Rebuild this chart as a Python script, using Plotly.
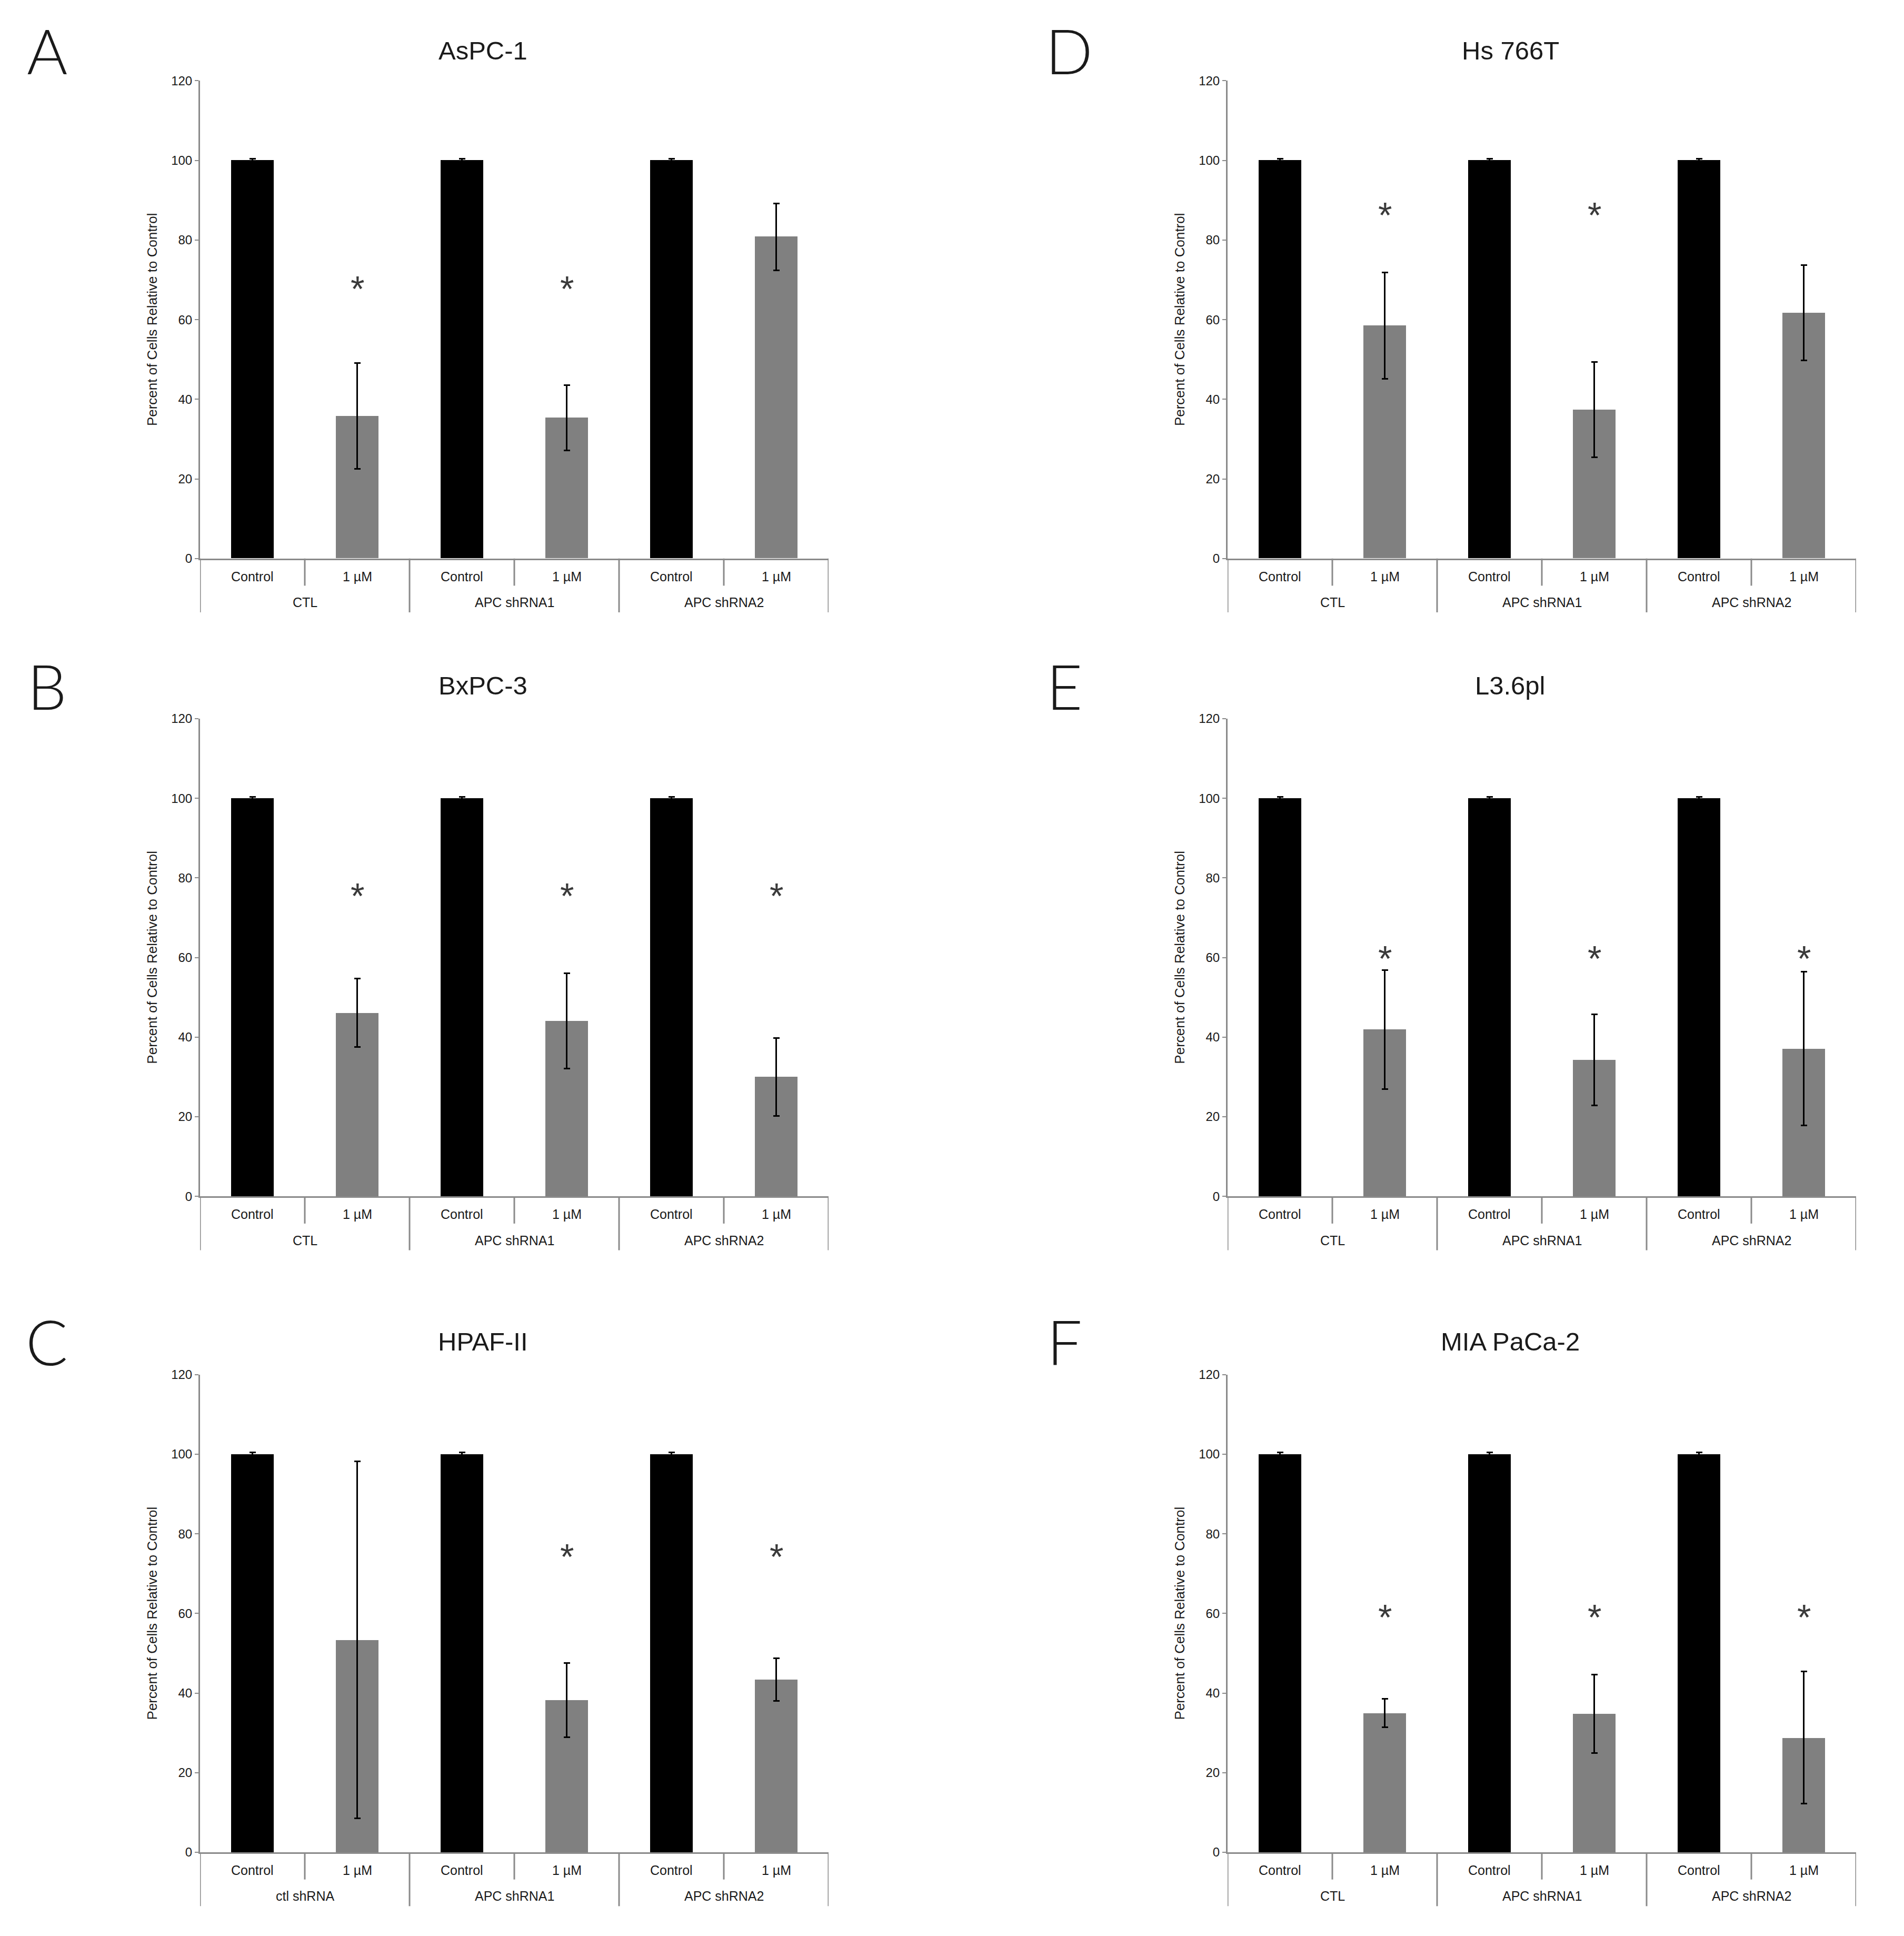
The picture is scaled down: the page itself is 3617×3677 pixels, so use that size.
import plotly.graph_objects as go
from plotly.subplots import make_subplots

# ---------------- data ----------------
panel_letters = ["A", "B", "C", "D", "E", "F"]
panel_titles = ["AsPC-1", "BxPC-3", "HPAF-II", "Hs 766T", "L3.6pl", "MIA PaCa-2"]
group_labels = [
    ["CTL", "APC shRNA1", "APC shRNA2"],
    ["CTL", "APC shRNA1", "APC shRNA2"],
    ["ctl shRNA", "APC shRNA1", "APC shRNA2"],
    ["CTL", "APC shRNA1", "APC shRNA2"],
    ["CTL", "APC shRNA1", "APC shRNA2"],
    ["CTL", "APC shRNA1", "APC shRNA2"],
]
treatment_labels = ["Control", "1 µM"]

control_means = [100, 100, 100]
control_err = [0.4, 0.4, 0.4]

treated_means = {
    "A": [35.8, 35.4, 80.8],
    "B": [46.1, 44.1, 30.0],
    "C": [53.4, 38.2, 43.4],
    "D": [58.5, 37.4, 61.7],
    "E": [41.9, 34.3, 37.1],
    "F": [35.0, 34.8, 28.8],
}
treated_err = {
    "A": [13.3, 8.2, 8.4],
    "B": [8.6, 12.0, 9.8],
    "C": [44.8, 9.3, 5.3],
    "D": [13.3, 12.0, 12.0],
    "E": [15.0, 11.5, 19.3],
    "F": [3.6, 9.8, 16.6],
}
# height (value units) of significance asterisk, None = no asterisk
asterisk_y = {
    "A": [69.1, 69.1, None],
    "B": [76.9, 76.9, 76.9],
    "C": [None, 75.6, 75.6],
    "D": [87.6, 87.6, None],
    "E": [61.1, 61.1, 61.1],
    "F": [60.5, 60.5, 60.5],
}
y_ticks = [0, 20, 40, 60, 80, 100, 120]
y_axis_title = "Percent of Cells Relative to Control"

# ---------------- layout geometry ----------------
W, H = 3617, 3677
col_x = [(380, 1574), (2332, 3526)]
row_y = [(140.5, 1054.5), (1361, 2275), (2616, 3530)]
letter_pos = {"A": (89, 82), "B": (89, 1298), "C": (89, 2552),
              "D": (2031, 82), "E": (2022, 1298), "F": (2022, 2552)}

FONT = "Liberation Sans, Arial, sans-serif"
AXIS_GRAY = "#8a8a8a"
TEXT = "#1a1a1a"

fig = make_subplots(rows=3, cols=2)

for idx, letter in enumerate(panel_letters):
    col = idx // 3
    row = idx % 3
    r, c = row + 1, col + 1
    x0, x1 = col_x[col]
    ytop, ybot = row_y[row]
    plot_w = x1 - x0
    plot_h = ybot - ytop

    ctrl_x = [0, 2, 4]
    trt_x = [1, 3, 5]
    fig.add_trace(go.Bar(
        x=ctrl_x, y=control_means, width=0.41,
        marker=dict(color="#000000", line=dict(width=0)),
        error_y=dict(type="data", array=control_err, color="#000000", thickness=3, width=6),
        showlegend=False), row=r, col=c)
    fig.add_trace(go.Bar(
        x=trt_x, y=treated_means[letter], width=0.41,
        marker=dict(color="#808080", line=dict(width=0)),
        error_y=dict(type="data", array=treated_err[letter], color="#000000", thickness=3, width=6),
        showlegend=False), row=r, col=c)

    sp = (r - 1) * 2 + c
    xa = "x" if sp == 1 else f"x{sp}"
    ya = "y" if sp == 1 else f"y{sp}"
    xkey = "xaxis" if sp == 1 else f"xaxis{sp}"
    ykey = "yaxis" if sp == 1 else f"yaxis{sp}"

    fig.layout[xkey].update(
        domain=[x0 / W, x1 / W], range=[-0.5, 5.5],
        showline=True, linecolor=AXIS_GRAY, linewidth=3,
        showticklabels=False, ticks="", showgrid=False, zeroline=False, fixedrange=True)
    fig.layout[ykey].update(
        domain=[1 - ybot / H, 1 - ytop / H], range=[0, 120],
        tickvals=y_ticks, ticks="outside", ticklen=7, tickwidth=2, tickcolor=AXIS_GRAY,
        showline=True, linecolor=AXIS_GRAY, linewidth=3,
        tickfont=dict(family=FONT, size=24, color=TEXT),
        showgrid=False, zeroline=False, fixedrange=True)

    xd = f"{xa} domain"
    yd = f"{ya} domain"

    # separator lines below x axis
    short_len = 52 / plot_h
    long_len = 103 / plot_h
    for b in [-0.5, 0.5, 1.5, 2.5, 3.5, 4.5, 5.5]:
        is_long = (b + 0.5) % 2 == 0
        fig.add_shape(type="line", xref=xa, yref=yd, x0=b, x1=b, y0=0,
                      y1=-(long_len if is_long else short_len),
                      line=dict(color=AXIS_GRAY, width=3))

    # treatment labels
    for i in range(6):
        fig.add_annotation(x=i, y=-34 / plot_h, xref=xa, yref=yd,
                           text=treatment_labels[i % 2], showarrow=False,
                           font=dict(family=FONT, size=25, color=TEXT),
                           xanchor="center", yanchor="middle")
    # group labels
    for g in range(3):
        fig.add_annotation(x=2 * g + 0.5, y=-84 / plot_h, xref=xa, yref=yd,
                           text=group_labels[idx][g], showarrow=False,
                           font=dict(family=FONT, size=25, color=TEXT),
                           xanchor="center", yanchor="middle")

    # asterisks
    for g in range(3):
        ay = asterisk_y[letter][g]
        if ay is not None:
            fig.add_annotation(x=trt_x[g], y=ay, xref=xa, yref=ya, text="*",
                               showarrow=False, yshift=-10,
                               font=dict(family=FONT, size=68, color="#3a3a3a"),
                               xanchor="center", yanchor="middle")

    # y axis title
    fig.add_annotation(x=-91 / plot_w, y=0.5, xref=xd, yref=yd, text=y_axis_title,
                       textangle=-90, showarrow=False,
                       font=dict(family=FONT, size=26, color=TEXT),
                       xanchor="center", yanchor="middle")

    # panel title
    title_off = 58 if row == 0 else 63
    fig.add_annotation(x=0.5 - 60 / plot_w, y=1 + title_off / plot_h, xref=xd, yref=yd,
                       text=panel_titles[idx], showarrow=False,
                       font=dict(family=FONT, size=49, color=TEXT),
                       xanchor="center", yanchor="middle")

    # panel letter
    lx, ly = letter_pos[letter]
    fig.add_annotation(x=lx / W, y=1 - ly / H, xref="paper", yref="paper",
                       text=letter, showarrow=False,
                       font=dict(family="Lato, Open Sans, sans-serif", size=118,
                                 color=TEXT, weight=300),
                       xanchor="center", yanchor="middle")

fig.update_layout(
    width=W, height=H,
    margin=dict(l=0, r=0, t=0, b=0),
    paper_bgcolor="white", plot_bgcolor="white",
    bargap=0, showlegend=False,
    font=dict(family=FONT),
)

fig.write_html("out.html")
